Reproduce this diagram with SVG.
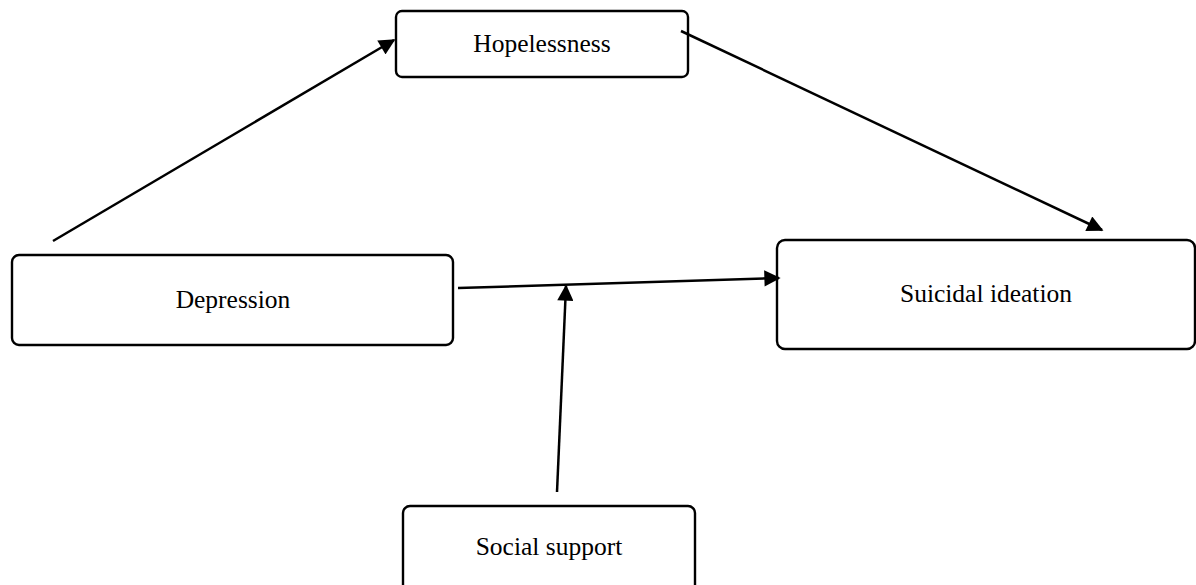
<svg xmlns="http://www.w3.org/2000/svg" width="1196" height="585" viewBox="0 0 1196 585">
<style>
.box{fill:#fff;stroke:#000;stroke-width:2.4}
.lbl{font-family:"Liberation Serif","Times New Roman",serif;font-size:25.5px;fill:#000;text-anchor:middle}
.edge{stroke:#000;stroke-width:2.5;fill:none;marker-end:url(#ah)}
</style>
<defs>
<marker id="ah" viewBox="0 0 10 10" refX="9" refY="5" markerWidth="7" markerHeight="6.5" markerUnits="strokeWidth" orient="auto">
<path d="M0,0 L10,5 L0,10 Z" fill="#000"/>
</marker>
</defs>
<rect width="1196" height="585" fill="#fff"/>
<g id="hopelessness">
<rect class="box" x="396" y="11" width="292" height="66" rx="6"/>
<text class="lbl" x="542" y="52">Hopelessness</text>
</g>
<g id="depression">
<rect class="box" x="12" y="255" width="441" height="90" rx="7"/>
<text class="lbl" x="233" y="308">Depression</text>
</g>
<g id="suicidal">
<rect class="box" x="777" y="240" width="418" height="109" rx="8"/>
<text class="lbl" x="986" y="302">Suicidal ideation</text>
</g>
<g id="social">
<rect class="box" x="403" y="506" width="292" height="90" rx="7"/>
<text class="lbl" x="549" y="555">Social support</text>
</g>
<g id="connectors">
<line class="edge" x1="53" y1="241" x2="394" y2="40"/>
<line class="edge" x1="681" y1="31" x2="1102" y2="230"/>
<line class="edge" x1="458" y1="288" x2="779" y2="278"/>
<line class="edge" x1="557" y1="492" x2="566" y2="286"/>
</g>
</svg>
